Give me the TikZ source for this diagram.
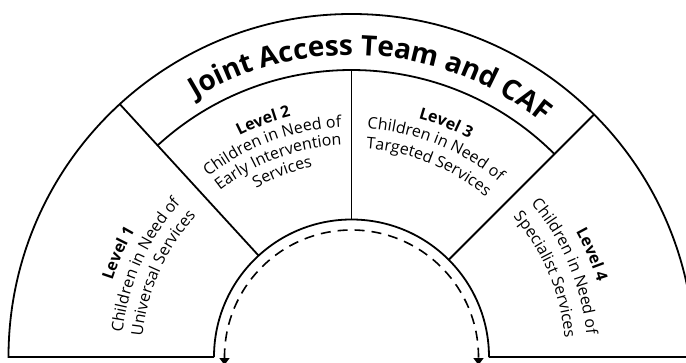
\documentclass[tikz,border=0pt]{standalone}
\usepackage{fontspec}
\setmainfont{Open Sans}
\usetikzlibrary{arrows.meta,decorations.text}

% text set along a clockwise arc: centre angle, baseline radius, format, text
\newcommand{\arcline}[4]{%
  \path[decorate, decoration={text along path, text align=center, text={|#3|#4}}]
    ({#1+40}:#2) arc[start angle={#1+40}, end angle={#1-40}, radius=#2];}
\newcommand{\lvlfont}{\fontsize{16}{19}\selectfont}
\newcommand{\lvlbold}{\fontsize{16}{19}\selectfont\bfseries}
\newcommand{\titlefont}{\fontsize{28}{33}\selectfont\bfseries}

\begin{document}
\begin{tikzpicture}[x=1pt, y=1pt,
    rim/.style={draw=black, line width=1.8pt},
    loopback/.style={draw=black, line width=1.6pt, dash pattern=on 10pt off 7pt,
      {Triangle[width=10pt, length=7pt]}-{Triangle[width=10pt, length=7pt]}}
    ]
    \useasboundingbox (-351.5,-5) rectangle (334.5,357);

    % outline of the fan
    \draw[rim] (-137.5,0) -- (-343,0) arc[start angle=180, end angle=0, radius=343] -- (137.5,0);
    \draw[rim] (-137.5,0) arc[start angle=180, end angle=0, radius=137.5];

    % title band and the four levels
    \draw[rim] (132.5:287) arc[start angle=132.5, end angle=45, radius=287];
    \draw[rim] (132.5:137.5) -- (132.5:343);
    \draw[rim] (45:137.5) -- (45:343);
    \draw[rim] (90:137.5) -- (90:287);

    % dashed return path
    \coordinate (leftend) at (-127,-8);
    \coordinate (rightend) at (127,-8);
    \draw[loopback] (leftend) -- (-127,0) arc[start angle=180, end angle=0, radius=127] -- (rightend);

    % labels
    \arcline{86}{302}{\titlefont}{Joint Access Team and CAF}

    \arcline{156}{251}{\lvlbold}{Level 1}
    \arcline{156}{230}{\lvlfont}{Children in Need of}
    \arcline{156}{210}{\lvlfont}{Universal Services}

    \arcline{110.5}{248}{\lvlbold}{Level 2}
    \arcline{110.5}{230}{\lvlfont}{Children in Need of}
    \arcline{110.5}{212}{\lvlfont}{Early Intervention}
    \arcline{110.5}{194}{\lvlfont}{Services}

    \arcline{68}{248}{\lvlbold}{Level 3}
    \arcline{68}{229}{\lvlfont}{Children in Need of}
    \arcline{68}{209}{\lvlfont}{Targeted Services}

    \arcline{23}{257}{\lvlbold}{Level 4}
    \arcline{23}{236}{\lvlfont}{Children in Need of}
    \arcline{23}{214}{\lvlfont}{Specialist Services}
  \end{tikzpicture}
\end{document}
